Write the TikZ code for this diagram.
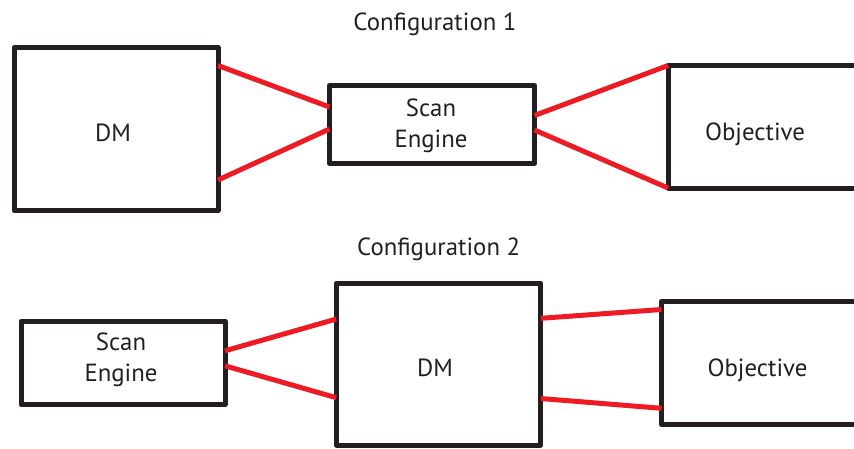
\documentclass[tikz,border=0pt]{standalone}
\usepackage{fontspec}
\setmainfont{PT Sans}
\definecolor{inkblack}{HTML}{231F20}
\definecolor{beamred}{HTML}{ED1C24}
\begin{document}
\begin{tikzpicture}[x=1pt,y=-1pt,
  unit/.style={draw=inkblack,line width=5pt,line join=round,rectangle,outer sep=0pt,inner sep=0pt},
  lbl/.style={text=inkblack,font=\fontsize{24.8}{31}\selectfont,inner sep=0pt,anchor=base,align=center},
  beam/.style={draw=beamred,line width=5pt}]
\useasboundingbox (0,0) rectangle (854,448);
\clip (0,0) rectangle (854,448);

% Configuration 1
\node[lbl] (t1) at (435,30) {Configuration 1};
\node[unit,minimum width=204pt,minimum height=163pt] (dm1) at (116,129) {};
\node[unit,minimum width=205pt,minimum height=78pt] (se1) at (432,124.5) {};
\node[unit,minimum width=210pt,minimum height=122.5pt] (ob1) at (773,126.75) {};
\node[lbl] (dm1t) at (113,141) {DM};
\node[lbl] (se1t) at (431,147) {Scan\\Engine};
\node[lbl] (ob1t) at (755,140) {Objective};

\draw[beam] ([yshift=-18]dm1.north east) -- ([yshift=-21.5]se1.north west);
\draw[beam] ([yshift=30.5]dm1.south east) -- ([yshift=34.5]se1.south west);
\draw[beam] ([yshift=-30]se1.north east) -- (ob1.north west);
\draw[beam] ([yshift=33.5]se1.south east) -- (ob1.south west);

% Configuration 2
\node[lbl] (t2) at (438.7,255.7) {Configuration 2};
\node[unit,minimum width=204pt,minimum height=83.5pt] (se2) at (123,362.75) {};
\node[unit,minimum width=204.5pt,minimum height=162pt] (dm2) at (438.5,364) {};
\node[unit,minimum width=210pt,minimum height=123pt] (ob2) at (766.5,363) {};
\node[lbl] (se2t) at (121,381.7) {Scan\\Engine};
\node[lbl] (dm2t) at (435,376.7) {DM};
\node[lbl] (ob2t) at (757.5,376.7) {Objective};

\draw[beam] ([yshift=-29.8]se2.north east) -- ([yshift=-36]dm2.north west);
\draw[beam] ([yshift=38.7]se2.south east) -- ([yshift=47.3]dm2.south west);
\draw[beam] ([yshift=-35.3]dm2.north east) -- ([yshift=-8]ob2.north west);
\draw[beam] ([yshift=46.5]dm2.south east) -- ([yshift=16.2]ob2.south west);
\end{tikzpicture}
\end{document}
